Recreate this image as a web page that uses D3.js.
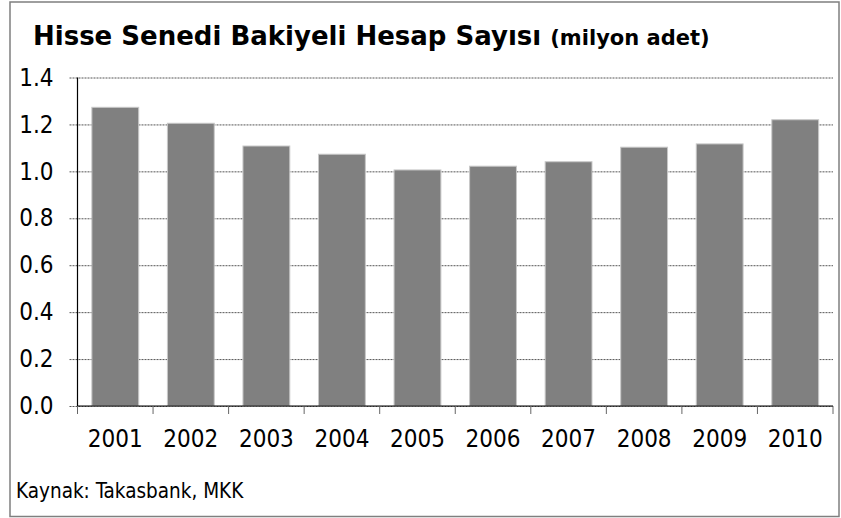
<!DOCTYPE html>
<html>
<head>
<meta charset="utf-8">
<script src="https://cdn.jsdelivr.net/npm/d3@7"></script>
<style>
  body { margin: 0; background: #fff; }
  svg text { font-family: "DejaVu Sans Condensed", "DejaVu Sans", sans-serif; fill: #000; }
</style>
</head>
<body>
<div id="wrapper"></div>
<script>
const years = ["2001", "2002", "2003", "2004", "2005", "2006", "2007", "2008", "2009", "2010"];
const accounts = [1.273, 1.205, 1.108, 1.073, 1.006, 1.022, 1.041, 1.103, 1.117, 1.220];
const yTicks = [0, 0.2, 0.4, 0.6, 0.8, 1.0, 1.2, 1.4];

const dataset = years.map((y, i) => ({ year: y, value: accounts[i] }));
const xAccessor = d => d.year;
const yAccessor = d => d.value;

let dimensions = {
    width: 841,
    height: 518,
    margins: {
        top: 77.5,
        right: 8,
        bottom: 112,
        left: 77.5
    }
};
dimensions.boundedWidth = dimensions.width - dimensions.margins.left - dimensions.margins.right;
dimensions.boundedHeight = dimensions.height - dimensions.margins.top - dimensions.margins.bottom;

const wrapper = d3.select('#wrapper')
    .append('svg')
    .attr('width', dimensions.width)
    .attr('height', dimensions.height);

// outer frame
wrapper.append('rect')
    .attr('x', 10)
    .attr('y', 2)
    .attr('width', 829)
    .attr('height', 514.5)
    .attr('fill', 'none')
    .attr('stroke', '#7f7f7f')
    .attr('stroke-width', 1.5);

// title
const title = wrapper.append('text')
    .attr('x', 33)
    .attr('y', 45)
    .style('font-family', '"DejaVu Sans", sans-serif')
    .style('font-weight', 'bold')
    .style('font-size', '26px');
title.append('tspan').text('Hisse Senedi Bakiyeli Hesap Sayısı ');
title.append('tspan').style('font-size', '21px').text('(milyon adet)');

const bounds = wrapper.append('g')
    .attr('transform', `translate(${dimensions.margins.left},${dimensions.margins.top})`);

const yScale = d3.scaleLinear()
    .domain([0, 1.4])
    .range([dimensions.boundedHeight, 0]);

const xScale = d3.scaleBand()
    .domain(years)
    .range([0, dimensions.boundedWidth])
    .paddingInner(0.38)
    .paddingOuter(0.19);

// y axis with dotted grid
const yAxisGenerator = d3.axisLeft(yScale)
    .tickValues(yTicks)
    .tickFormat(d3.format('.1f'))
    .tickSize(8)
    .tickPadding(16);

const yAxis = bounds.append('g').call(yAxisGenerator);
yAxis.select('.domain').remove();
yAxis.selectAll('.tick line')
    .attr('x1', -8)
    .attr('x2', dimensions.boundedWidth)
    .attr('stroke', '#555')
    .attr('stroke-dasharray', '2,1');
yAxis.selectAll('.tick text')
    .style('font-size', '24px');

// bars
bounds.selectAll('rect.bar')
    .data(dataset)
    .join('rect')
    .attr('class', 'bar')
    .attr('x', d => xScale(xAccessor(d)))
    .attr('y', d => yScale(yAccessor(d)))
    .attr('width', xScale.bandwidth())
    .attr('height', d => dimensions.boundedHeight - yScale(yAccessor(d)))
    .attr('fill', '#808080')
    .attr('stroke', '#c8c8c8')
    .attr('stroke-width', 1);

// y axis line
bounds.append('line')
    .attr('x1', 0).attr('x2', 0)
    .attr('y1', 0).attr('y2', dimensions.boundedHeight)
    .attr('stroke', '#000')
    .attr('stroke-width', 1.2);

// x axis
const xAxisGenerator = d3.axisBottom(xScale)
    .tickSize(0)
    .tickPadding(24);

const xAxis = bounds.append('g')
    .attr('transform', `translate(0,${dimensions.boundedHeight})`)
    .call(xAxisGenerator);
xAxis.select('.domain')
    .attr('d', `M0,0H${dimensions.boundedWidth}`)
    .attr('stroke', '#000')
    .attr('stroke-width', 1.2);
xAxis.selectAll('.tick text')
    .style('font-size', '24px');

// boundary ticks between categories
const boundaries = d3.range(years.length + 1).map(i => i * xScale.step());
xAxis.selectAll('line.sep')
    .data(boundaries)
    .join('line')
    .attr('class', 'sep')
    .attr('x1', d => d).attr('x2', d => d)
    .attr('y1', 0).attr('y2', 8)
    .attr('stroke', '#666');

// source
wrapper.append('text')
    .attr('x', 16)
    .attr('y', 498)
    .style('font-size', '20.5px')
    .text('Kaynak: Takasbank, MKK');
</script>
</body>
</html>
